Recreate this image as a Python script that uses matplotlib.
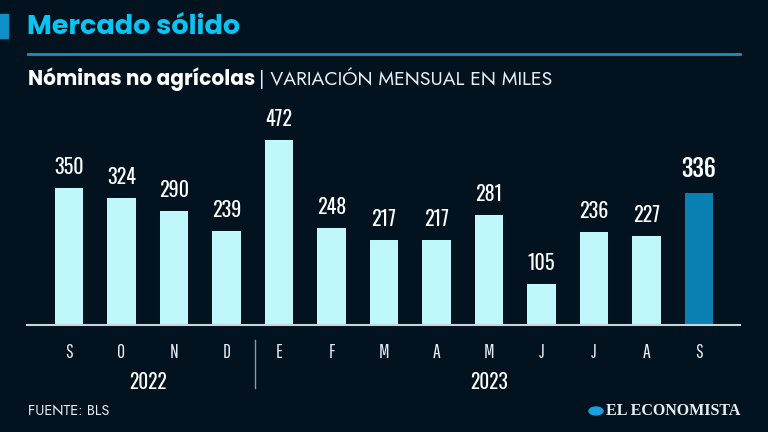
import matplotlib
matplotlib.use("Agg")
import matplotlib.pyplot as plt
from matplotlib.patches import Rectangle, Circle

months = ["S", "O", "N", "D", "E", "F", "M", "A", "M", "J", "J", "A", "S"]
values = [350, 324, 290, 239, 472, 248, 217, 217, 281, 105, 236, 227, 336]
years = ["2022", "2023"]
year_spans = [(0, 3), (4, 12)]

bg = "#03121f"
bar_col = "#bff8fb"
hi_col = "#0a80b2"
cond = ["Oswald", "DejaVu Sans"]
thin = ["Pathway Gothic One", "DejaVu Sans"]
light = ["Jost", "DejaVu Sans"]
heavy = ["Fjalla One", "DejaVu Sans"]
geo = ["Poppins", "DejaVu Sans"]

W, H = 768, 432
fig = plt.figure(figsize=(W / 100, H / 100), dpi=100, facecolor=bg)

def px(x, y):
    return x / W, 1 - y / H

# axes placed in pixel terms: left 27, right 740, top 100, bottom 325
ax = fig.add_axes([27 / W, 1 - 325 / H, (740 - 27) / W, (325 - 100) / H])
ax.set_facecolor(bg)
x = list(range(len(values)))
colors = [bar_col] * (len(values) - 1) + [hi_col]
ax.bar(x, values, width=0.54, color=colors, zorder=2)
ax.set_xlim(-0.8, 12.78)
ax.set_ylim(0, 574)
for s in ["top", "right", "left"]:
    ax.spines[s].set_visible(False)
ax.spines["bottom"].set_color("#c9d3da")
ax.spines["bottom"].set_linewidth(1.5)
ax.set_yticks([])
ax.set_xticks([])

for i, v in enumerate(values):
    last = i == len(values) - 1
    ax.annotate(str(v), (i, v), xytext=(0, 8), textcoords="offset points",
                ha="center", va="bottom", color="white",
                fontsize=17 if last else 14.5, family=heavy if last else cond)

# month labels and years
for i, m in enumerate(months):
    ax.annotate(m, (i, 0), xytext=(0, -20), textcoords="offset points",
                ha="center", va="center", color="#e6edf2", fontsize=14,
                family=thin, annotation_clip=False)
for yr, (a, b) in zip(years, year_spans):
    ax.annotate(yr, ((a + b) / 2, 0), xytext=(0, -41), textcoords="offset points",
                ha="center", va="center", color="white", fontsize=14,
                family=cond, annotation_clip=False)

# separator between years
fig.add_artist(plt.Line2D([255 / W, 255 / W], [1 - 340 / H, 1 - 388 / H],
                          color="#8a99a6", lw=1))

# header
fig.add_artist(Rectangle(px(0, 38), 8 / W, 24 / H, color="#0e8fc7"))
fig.text(*px(27, 28), "Mercado sólido", color="#08c4f2", fontsize=19.5,
         fontweight="bold", family=geo, va="center", ha="left")
fig.add_artist(plt.Line2D([28 / W, 740 / W], [1 - 54 / H, 1 - 54 / H],
                          color="#1a8fc0", lw=2))
t = fig.text(*px(28, 79), "Nóminas no agrícolas", color="white", fontsize=14.5,
             fontweight="bold", family=geo, va="center", ha="left")
fig.canvas.draw()
bb = t.get_window_extent()
fig.text((bb.x1 + 4) / W, 1 - 78 / H, "| VARIACIÓN MENSUAL EN MILES", color="#e6edf2",
         fontsize=14, family=light, va="center", ha="left")

# footer
fig.text(*px(28, 411), "FUENTE: BLS", color="#e6edf2", fontsize=10.5,
         family=light, va="center", ha="left")
fig.text(*px(740, 411), "EL ECONOMISTA", color="#e6edf2", fontsize=11.5,
         fontweight="bold", family="Liberation Serif", va="center", ha="right")
fig.add_artist(Circle(px(596, 411), 7 / W, transform=fig.transFigure, color="#1aa0e0"))

fig.savefig("out.png", dpi=100, facecolor=bg)
